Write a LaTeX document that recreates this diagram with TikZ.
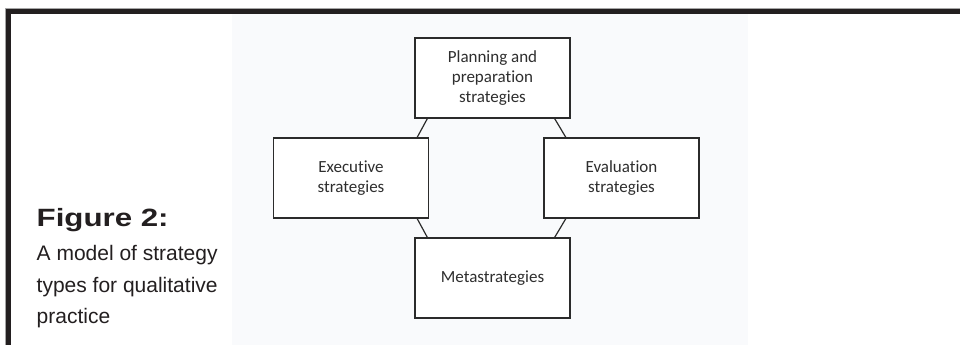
\documentclass[tikz,border=0pt]{standalone}
\usepackage{fontspec}
\newfontfamily\boxfont[Ligatures={NoCommon}]{Carlito}
\newfontfamily\capfont{Liberation Sans}
\newfontfamily\figfont[FakeStretch=1.25]{Liberation Sans}
\definecolor{ink}{HTML}{231F20}
\definecolor{boxline}{HTML}{2B2B2B}
\definecolor{boxtext}{HTML}{2E2E2E}
\definecolor{panel}{HTML}{F9FAFC}
\tikzset{
  stratbox/.style={draw=boxline, line width=1.4pt, fill=white, minimum width=155pt,
    minimum height=80pt, align=center, text=boxtext, inner sep=0pt,
    font=\boxfont\fontsize{17}{20}\selectfont},
  conn/.style={draw=boxline, line width=1.2pt},
  captext/.style={anchor=base west, inner sep=0pt, text=ink, font=\capfont\fontsize{21}{25}\selectfont}
}
\begin{document}
\begin{tikzpicture}[x=1pt,y=-1pt]
\useasboundingbox (0,0) rectangle (960,345);
\fill[white] (0,0) rectangle (960,345);
\fill[panel] (232,14) rectangle (748,345);
% frame
\draw[black!35, line width=1pt] (5.5,345) -- (5.5,8.5) -- (960,8.5);
\fill[ink] (6,9) rectangle (960,14);
\fill[ink] (6,9) rectangle (11,345);
% boxes
\node[stratbox] (plan) at (492.5,78) {Planning and\\preparation\\strategies};
\node[stratbox] (exe) at (351,178) {Executive\\strategies};
\node[stratbox] (eval) at (621.5,178) {Evaluation\\strategies};
\node[stratbox] (meta) at (492.5,278) {Metastrategies};
% connectors
\draw[conn] ([xshift=13pt]plan.south west) -- ([xshift=-12pt]exe.north east);
\draw[conn] ([xshift=-16pt]plan.south east) -- ([xshift=22.5pt]eval.north west);
\draw[conn] ([xshift=-12pt]exe.south east) -- ([xshift=13pt]meta.north west);
\draw[conn] ([xshift=22.5pt]eval.south west) -- ([xshift=-16pt]meta.north east);
% caption
\node[anchor=base west, inner sep=0pt, text=ink, font=\figfont\bfseries\fontsize{25}{30}\selectfont] (fig) at (36.5,226) {Figure 2:};
\node[captext] (cap1) at (36.5,260) {A model of strategy};
\node[captext] (cap2) at (36.5,292) {types for qualitative};
\node[captext] (cap3) at (36.5,323) {practice};
\end{tikzpicture}
\end{document}
